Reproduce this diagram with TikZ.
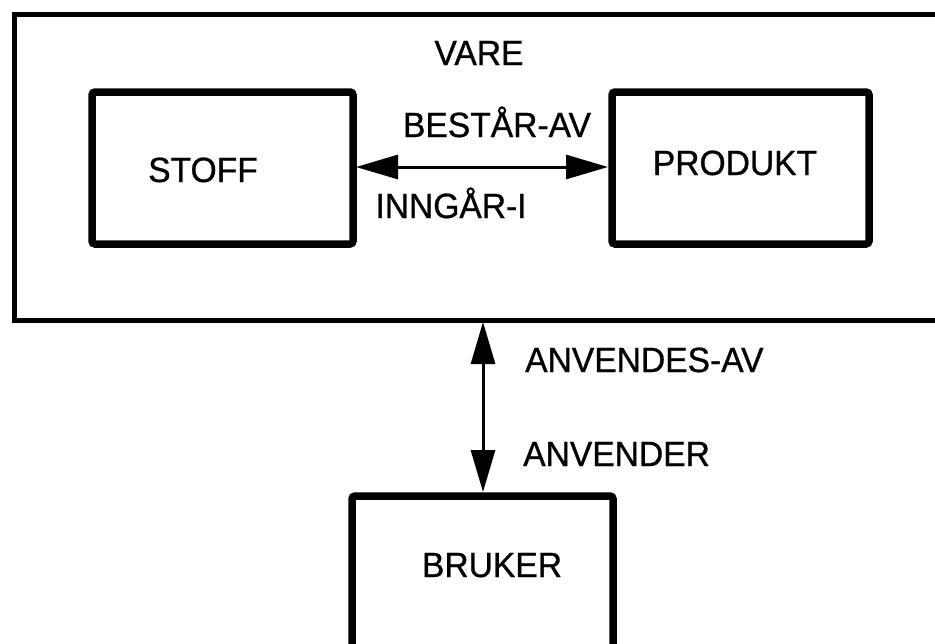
\documentclass[tikz,border=0pt]{standalone}
\usepackage{fontspec}
\setmainfont{Liberation Sans}[FakeStretch=0.96,FakeBold=0.8]
\usetikzlibrary{arrows.meta}
\begin{document}
\begin{tikzpicture}[x=1pt,y=-1pt,
  lbl/.style={anchor=base,inner sep=0pt,font=\fontsize{35}{40}\selectfont},
  lbll/.style={anchor=base west,inner sep=0pt,font=\fontsize{35}{40}\selectfont},
  entity/.style={draw,line width=7.5pt,rounded corners=3pt},
  conn/.style={line width=3pt,{Triangle[length=42pt,width=24pt]}-{Triangle[length=42pt,width=24pt]}}]
\useasboundingbox (0,0) rectangle (935,643);
\draw[line width=5pt] (14,14) rectangle (960,320);
\draw[entity] (92,92) rectangle (353,244);
\draw[entity] (612,92) rectangle (869,244);
\draw[entity] (352,496) rectangle (613,680);
\coordinate (stoffR) at (356,167);
\coordinate (prodL) at (608,167);
\coordinate (vareB) at (483,322);
\coordinate (brukT) at (483,492);
\node[lbl] (vare) at (479,65) {VARE};
\node[lbl] (stoff) at (203,182) {STOFF};
\node[lbl] (produkt) at (735,175) {PRODUKT};
\node[lbl] (bruker) at (492,577) {BRUKER};
\node[lbl] (bestar) at (497,137) {BESTÅR-AV};
\node[lbl] (inngar) at (451,218) {INNGÅR-I};
\node[lbll] (anvav) at (525,372) {ANVENDES-AV};
\node[lbll] (anv) at (523,466) {ANVENDER};
\draw[conn] (stoffR) -- (prodL);
\draw[conn] (vareB) -- (brukT);
\end{tikzpicture}
\end{document}
